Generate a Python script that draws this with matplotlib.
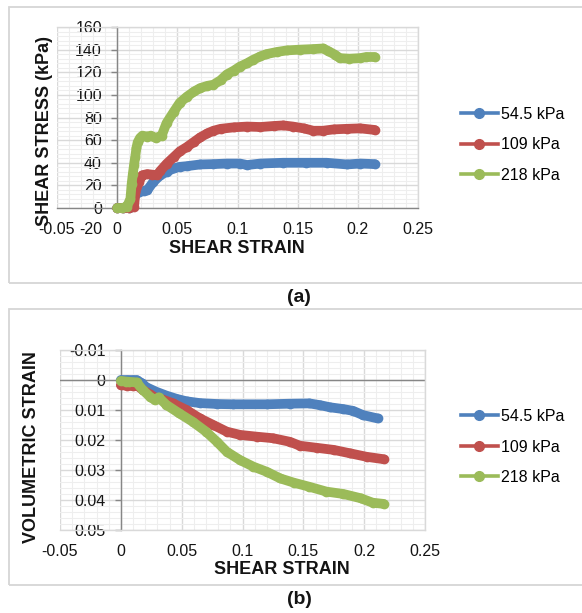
import matplotlib
matplotlib.use("Agg")
import matplotlib.pyplot as plt
from matplotlib.lines import Line2D
from matplotlib.patches import Rectangle
from matplotlib.ticker import MultipleLocator, FuncFormatter

plt.rcParams['font.family'] = ['Liberation Sans', 'DejaVu Sans']

# ---------------- data ----------------
series_labels = ["54.5 kPa", "109 kPa", "218 kPa"]
series_colors = ["#4F81BD", "#C0504D", "#9BBB59"]

# (a) shear stress vs shear strain
blue_a_x = [0, 0.005, 0.010, 0.0124, 0.014, 0.018, 0.022, 0.025, 0.030, 0.036, 0.041, 0.047, 0.052,
            0.058, 0.069, 0.080, 0.091, 0.102, 0.108, 0.119, 0.138, 0.157, 0.174, 0.191, 0.202, 0.214]
blue_a_y = [0, 0, 0, 5, 10, 14, 15, 15.7, 23, 29, 32, 35, 36.4,
            37, 38.5, 38.8, 39.3, 39.3, 38, 39.3, 40, 40, 40, 38.5, 39.3, 38.8]

red_a_x = [0, 0.005, 0.010, 0.014, 0.0152, 0.018, 0.021, 0.025, 0.029, 0.033, 0.036, 0.041, 0.047,
           0.052, 0.058, 0.064, 0.069, 0.075, 0.080, 0.086, 0.097, 0.108, 0.119, 0.130, 0.138, 0.146,
           0.155, 0.163, 0.171, 0.180, 0.191, 0.202, 0.214]
red_a_y = [0, 0, 0, 1, 14, 23, 29, 30, 29.5, 29, 33, 39, 45,
           50, 54, 58.6, 62.4, 66, 68.3, 70, 71.3, 72, 71.6, 72.5, 73, 72,
           70.4, 68.3, 68.3, 69.5, 70, 70.4, 69]

green_a_x = [0, 0.004, 0.008, 0.011, 0.012, 0.013, 0.014, 0.015, 0.016, 0.017, 0.019, 0.021, 0.025,
             0.028, 0.032, 0.037, 0.041, 0.047, 0.052, 0.058, 0.064, 0.069, 0.075, 0.080, 0.086,
             0.091, 0.097, 0.102, 0.108, 0.113, 0.119, 0.124, 0.133, 0.141, 0.152, 0.163, 0.171,
             0.175, 0.181, 0.185, 0.193, 0.202, 0.207, 0.214]
green_a_y = [0, 0, 1, 8, 21, 30, 38, 45, 53, 58, 62, 64, 63,
             64, 62, 64, 75, 85, 93, 98.5, 103, 106, 108, 109, 113,
             118, 121.5, 125, 128, 131, 134, 136, 138, 139.3, 140, 140.5, 141,
             139, 135.5, 132.5, 132, 132.5, 133.5, 133.5]

# (b) volumetric strain vs shear strain
blue_b_x = [0, 0.005, 0.010, 0.013, 0.017, 0.021, 0.029, 0.0375, 0.046, 0.054, 0.065, 0.079, 0.092,
            0.120, 0.139, 0.155, 0.164, 0.172, 0.183, 0.191, 0.199, 0.211]
blue_b_y = [0, 0, 0, 0, 0.001, 0.0024, 0.0039, 0.0052, 0.0063, 0.0071, 0.0077, 0.008, 0.0081,
            0.0081, 0.0079, 0.0078, 0.0084, 0.0091, 0.0097, 0.0103, 0.0117, 0.0128]

red_b_x = [0, 0.005, 0.010, 0.014, 0.018, 0.024, 0.029, 0.033, 0.043, 0.054, 0.065, 0.076, 0.087,
           0.098, 0.112, 0.125, 0.139, 0.147, 0.161, 0.175, 0.188, 0.202, 0.216]
red_b_y = [0.0017, 0.0019, 0.002, 0.002, 0.0033, 0.0048, 0.006, 0.0063, 0.0078, 0.010, 0.0128, 0.015,
           0.0172, 0.0183, 0.0189, 0.0194, 0.0206, 0.0219, 0.0226, 0.0233, 0.0244, 0.0256, 0.0264]

green_b_x = [0, 0.004, 0.007, 0.013, 0.018, 0.024, 0.028, 0.031, 0.0375, 0.048, 0.059, 0.070, 0.079,
             0.087, 0.098, 0.109, 0.120, 0.131, 0.142, 0.155, 0.169, 0.183, 0.197, 0.207, 0.216]
green_b_y = [0.0003, 0.0005, 0.0006, 0.0008, 0.0033, 0.0056, 0.0067, 0.0058, 0.0083, 0.0111, 0.0139,
             0.0172, 0.0206, 0.0239, 0.0267, 0.0289, 0.0306, 0.0328, 0.0342, 0.0356, 0.0372, 0.038,
             0.0394, 0.0409, 0.0413]

x_ticks = [-0.05, 0, 0.05, 0.1, 0.15, 0.2, 0.25]
a_yticks = [0, 20, 40, 60, 80, 100, 120, 140, 160]
b_yticks = [-0.01, 0, 0.01, 0.02, 0.03, 0.04, 0.05]

# ---------------- layout ----------------
W, H = 582, 613
fig = plt.figure(figsize=(W / 100, H / 100), dpi=100)
fig.patch.set_facecolor("white")


def fx(px):
    return px / W


def fy(py):
    return 1 - py / H


TXT = "#141414"
MAJ = "#d9d9d9"
MIN = "#eeeeee"
AXC = "#868686"
TICK_FS = 11.5
LAB_FS = 13

fmt = FuncFormatter(lambda v, p: f"{round(v, 4):g}")

# panel frames
for top, bot in [(7, 283), (309, 585)]:
    fig.add_artist(Rectangle((fx(9), fy(bot)), fx(W + 5) - fx(9), fy(top) - fy(bot),
                             transform=fig.transFigure, fill=False, edgecolor="#d6d6d6", lw=1.3))


def style_axes(ax, ymin, ymax, yminor, yticks):
    ax.set_xlim(-0.05, 0.25)
    ax.set_ylim(ymin, ymax)
    ax.set_xticks(x_ticks)
    ax.set_yticks(yticks)
    ax.xaxis.set_minor_locator(MultipleLocator(0.01))
    ax.yaxis.set_minor_locator(MultipleLocator(yminor))
    ax.xaxis.set_major_formatter(fmt)
    ax.yaxis.set_major_formatter(fmt)
    ax.grid(which="major", color=MAJ, lw=1.0, zorder=0)
    ax.grid(which="minor", color=MIN, lw=0.8, zorder=0)
    ax.set_axisbelow(True)
    ax.tick_params(which="minor", length=0)
    ax.tick_params(axis="x", which="major", length=0, pad=10, labelsize=TICK_FS, labelcolor=TXT)
    ax.tick_params(axis="y", which="major", length=4, width=1, color=AXC, direction="out",
                   pad=7, labelsize=TICK_FS, labelcolor=TXT)
    ax.spines["left"].set_position(("data", 0))
    ax.spines["left"].set_color(AXC)
    ax.spines["left"].set_linewidth(1.0)
    for s in ["top", "right"]:
        ax.spines[s].set_color(MAJ)
        ax.spines[s].set_linewidth(1.0)


def legend_handles():
    return [Line2D([], [], color=c, lw=2.6, marker="o", ms=7, mec=c, mfc=c) for c in series_colors]


def draw_series(ax, data):
    for xs, ys, c in data:
        ax.plot(xs, ys, color=c, lw=7, marker="o", ms=7, mec=c, mfc=c, mew=0,
                solid_capstyle="round", solid_joinstyle="round", zorder=3, clip_on=False)


# ---------------- panel (a) ----------------
axa = fig.add_axes([fx(57), fy(208), fx(418) - fx(57), fy(27) - fy(208)])
style_axes(axa, 0, 160, 4, a_yticks)
axa.spines["bottom"].set_color(AXC)
axa.spines["bottom"].set_linewidth(1.0)
draw_series(axa, [(blue_a_x, blue_a_y, series_colors[0]),
                  (red_a_x, red_a_y, series_colors[1]),
                  (green_a_x, green_a_y, series_colors[2])])
fig.text(fx(102), fy(230), "-20", ha="right", va="center", fontsize=TICK_FS, color=TXT)
fig.text(fx(45), fy(131), "SHEAR STRESS (kPa)", rotation=90, ha="center", va="center",
         fontsize=LAB_FS, fontweight="bold", color=TXT)
fig.text(fx(237), fy(248), "SHEAR STRAIN", ha="center", va="center",
         fontsize=LAB_FS, fontweight="bold", color=TXT)
fig.legend(legend_handles(), series_labels, loc="center left", bbox_to_anchor=(fx(461), fy(145)),
           frameon=False, fontsize=TICK_FS, handlelength=2.3, handletextpad=0.2,
           labelspacing=0.97, borderpad=0, borderaxespad=0)
fig.text(fx(299), fy(298), "(a)", ha="center", va="center", fontsize=14, fontweight="bold", color=TXT)

# ---------------- panel (b) ----------------
axb = fig.add_axes([fx(60), fy(530), fx(425) - fx(60), fy(350) - fy(530)])
style_axes(axb, 0.05, -0.01, 0.002, b_yticks)
axb.spines["bottom"].set_color(MAJ)
axb.spines["bottom"].set_linewidth(1.0)
axb.axhline(0, color=AXC, lw=1.0, zorder=1)
draw_series(axb, [(blue_b_x, blue_b_y, series_colors[0]),
                  (red_b_x, red_b_y, series_colors[1]),
                  (green_b_x, green_b_y, series_colors[2])])
fig.text(fx(32), fy(447), "VOLUMETRIC STRAIN", rotation=90, ha="center", va="center",
         fontsize=LAB_FS, fontweight="bold", color=TXT)
fig.text(fx(282), fy(569), "SHEAR STRAIN", ha="center", va="center",
         fontsize=LAB_FS, fontweight="bold", color=TXT)
fig.legend(legend_handles(), series_labels, loc="center left", bbox_to_anchor=(fx(461), fy(447)),
           frameon=False, fontsize=TICK_FS, handlelength=2.3, handletextpad=0.2,
           labelspacing=0.97, borderpad=0, borderaxespad=0)
fig.text(fx(299), fy(600), "(b)", ha="center", va="center", fontsize=14, fontweight="bold", color=TXT)

fig.savefig("out.png", dpi=100, facecolor="white")
